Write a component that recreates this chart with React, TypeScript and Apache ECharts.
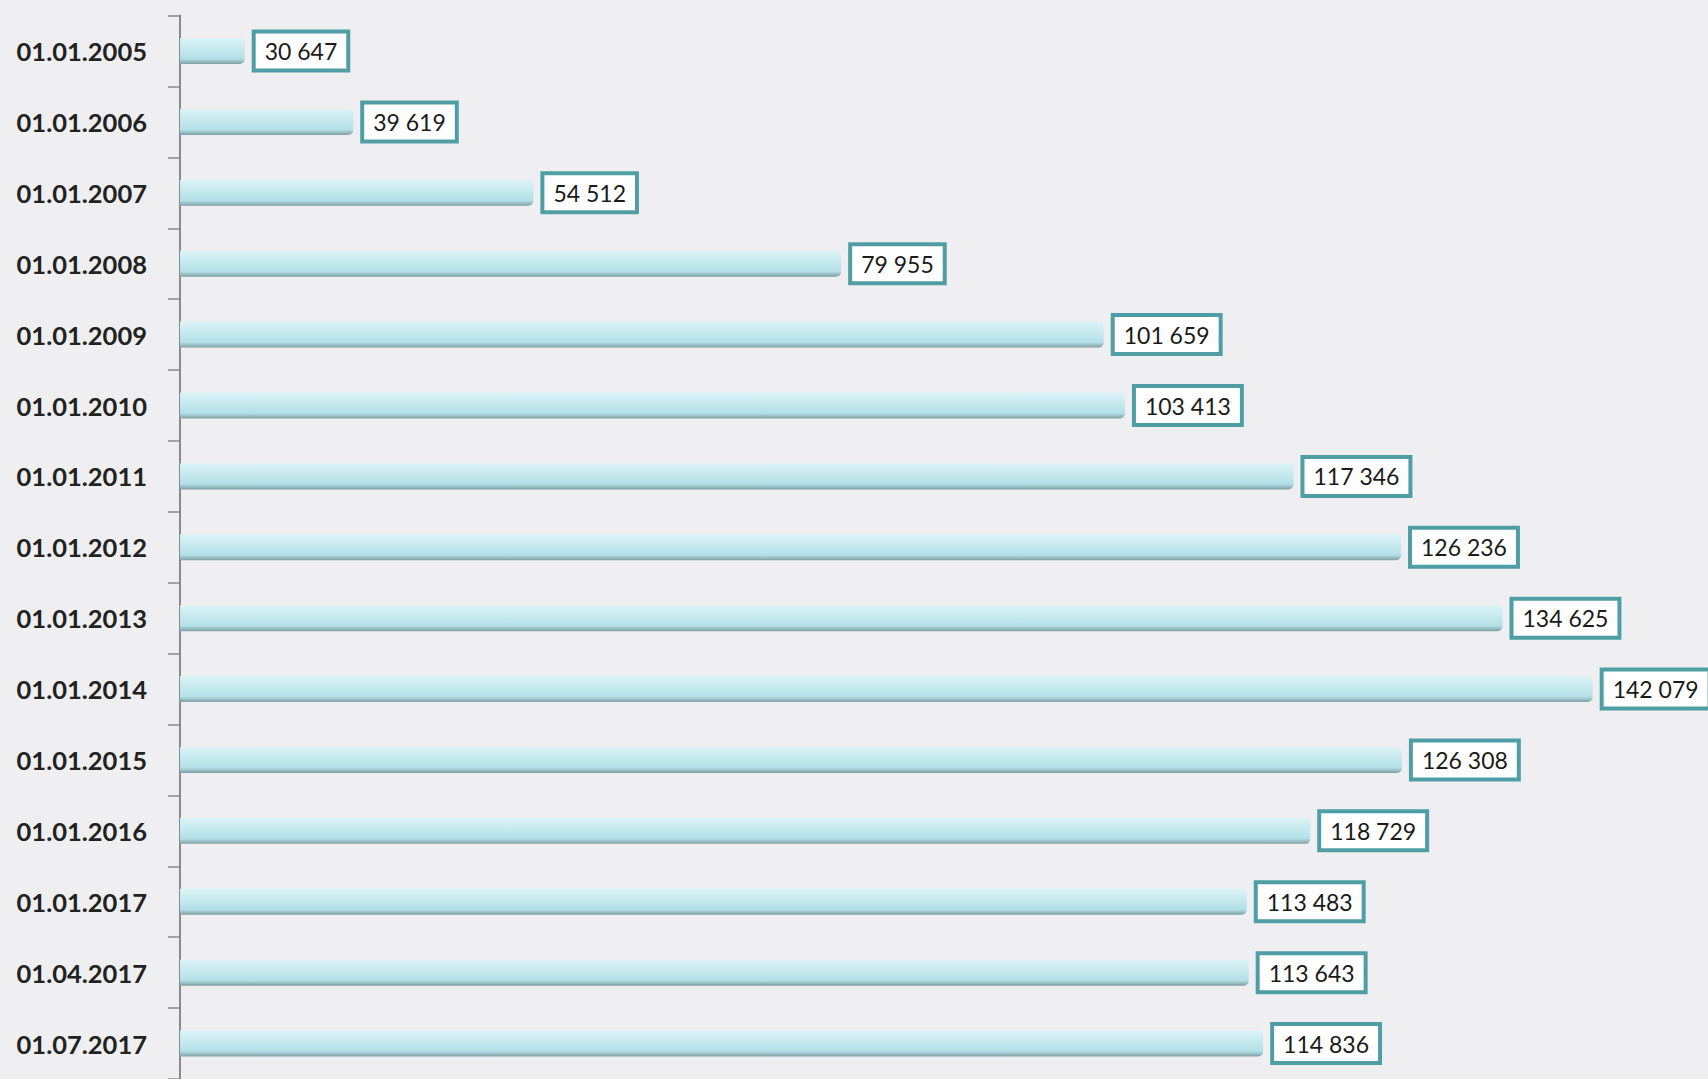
import React, { useEffect, useRef } from "react";
import * as echarts from "echarts";

const categories = [
  "01.01.2005", "01.01.2006", "01.01.2007", "01.01.2008", "01.01.2009",
  "01.01.2010", "01.01.2011", "01.01.2012", "01.01.2013", "01.01.2014",
  "01.01.2015", "01.01.2016", "01.01.2017", "01.04.2017", "01.07.2017",
];
const values = [
  30647, 39619, 54512, 79955, 101659,
  103413, 117346, 126236, 134625, 142079,
  126308, 118729, 113483, 113643, 114836,
];
const axisMin = 25300;
const axisMax = 150000;

function fmt(v: number): string {
  return String(v).replace(/\B(?=(\d{3})+(?!\d))/g, " ");
}

export default function App() {
  const ref = useRef<HTMLDivElement>(null);
  useEffect(() => {
    if (!ref.current) return;
    const chart = echarts.init(ref.current, undefined, { renderer: "svg" });
    chart.setOption({
      animation: false,
      backgroundColor: "#efeff1",
      grid: { left: 180, right: 19.5, top: 15.6, bottom: -3.4, containLabel: false },
      xAxis: {
        type: "value",
        min: axisMin,
        max: axisMax,
        show: false,
        splitLine: { show: false },
      },
      yAxis: {
        type: "category",
        data: categories,
        inverse: true,
        axisLine: { show: true, lineStyle: { color: "#8a8a8a", width: 2 } },
        axisTick: { show: true, length: 12, lineStyle: { color: "#8a8a8a", width: 1.5 } },
        axisLabel: {
          margin: 33,
          fontFamily: "Lato",
          fontWeight: "bold",
          fontSize: 25.5,
          color: "#222222",
        },
      },
      series: [
        {
          type: "bar",
          data: values,
          barWidth: 26,
          itemStyle: {
            borderRadius: [0, 5, 5, 0],
            color: new echarts.graphic.LinearGradient(0, 0, 0, 1, [
              { offset: 0, color: "#dcf3f6" },
              { offset: 0.45, color: "#c4e9ef" },
              { offset: 0.8, color: "#b2dfe6" },
              { offset: 1, color: "#7e9ea3" },
            ]),
          },
          label: {
            show: true,
            position: "right",
            distance: 11,
            formatter: (p: any) => fmt(p.value),
            fontFamily: "Lato",
            fontSize: 23,
            color: "#1a1a1a",
            backgroundColor: "#ffffff",
            borderColor: "#4f9ea5",
            borderWidth: 4,
            padding: [5, 9, 5, 9],
            lineHeight: 25,
          },
        },
      ],
    });
    return () => chart.dispose();
  }, []);
  return (
    <div
      ref={ref}
      style={{ position: "fixed", left: 0, top: 0, width: 1708, height: 1079 }}
    />
  );
}
